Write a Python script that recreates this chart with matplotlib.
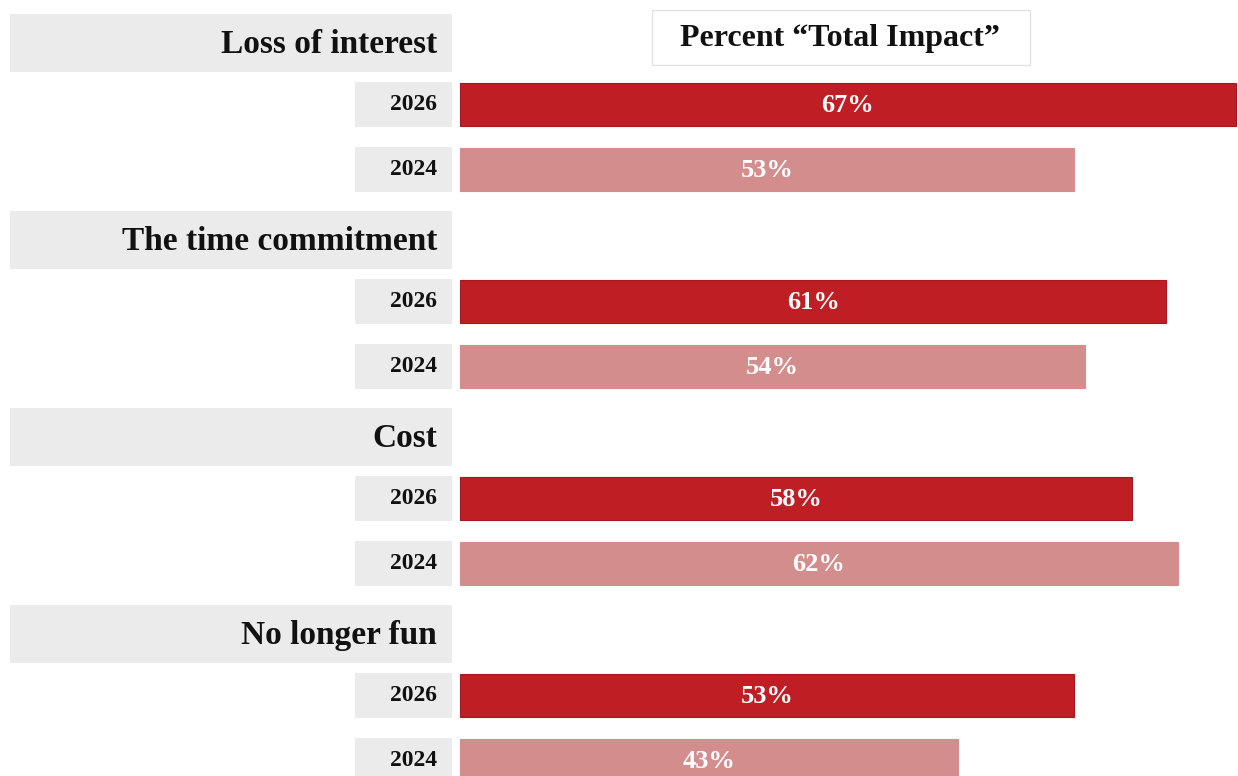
import matplotlib.pyplot as plt
from matplotlib.patches import Rectangle

reasons = ["Loss of interest", "The time commitment", "Cost", "No longer fun"]
years = ["2026", "2024"]
pct_2026 = [67, 61, 58, 53]
pct_2024 = [53, 54, 62, 43]

dark_red = "#c01e25"
light_red = "#d48d8d"
box_grey = "#ebebeb"

plt.rcParams["font.family"] = ["Liberation Serif", "DejaVu Serif"]

fig = plt.figure(figsize=(12.38, 7.76), dpi=100)
ax = fig.add_axes([0, 0, 1, 1])

# x axis in percent, zero placed where the bars start
px_per_pct = 11.58
x0_px = 460
ax.set_xlim(-x0_px / px_per_pct, (1238 - x0_px) / px_per_pct)
ax.set_ylim(776, 0)
ax.axis("off")


def px(x):
    return (x - x0_px) / px_per_pct


group_step = 197
bar_h = 43
for g, reason in enumerate(reasons):
    top = 14 + group_step * g
    # category header box
    ax.add_patch(Rectangle((px(10), top), px(452) - px(10), 58,
                           facecolor=box_grey, edgecolor="none"))
    ax.text(px(437), top + 39, reason, ha="right", va="baseline",
            fontsize=24, fontweight="bold", color="#111111")

    vals = [pct_2026[g], pct_2024[g]]
    for k, (yr, v) in enumerate(zip(years, vals)):
        btop = top + 69 + 65 * k
        yc = btop + bar_h / 2
        ax.add_patch(Rectangle((px(355), btop - 1), px(452) - px(355), bar_h + 2,
                               facecolor=box_grey, edgecolor="none"))
        ax.text(px(437), btop + 27, yr, ha="right", va="baseline",
                fontsize=17, fontweight="bold", color="#111111")
        color = dark_red if k == 0 else light_red
        ax.barh(yc, v, height=bar_h, left=0, color=color,
                edgecolor="#a8171d" if k == 0 else light_red, linewidth=0.8)
        ax.text(v / 2, btop + 29, f"{v}%", ha="center", va="baseline",
                fontsize=19, fontweight="bold", color="white")

# title box
ax.add_patch(Rectangle((px(652), 10), px(1030) - px(652), 55,
                       facecolor="white", edgecolor="#e2e2e2", linewidth=1))
ax.text(px(840), 46, "Percent \u201cTotal Impact\u201d", ha="center", va="baseline",
        fontsize=23, fontweight="bold", color="#111111")

fig.savefig("out.png", dpi=100)
